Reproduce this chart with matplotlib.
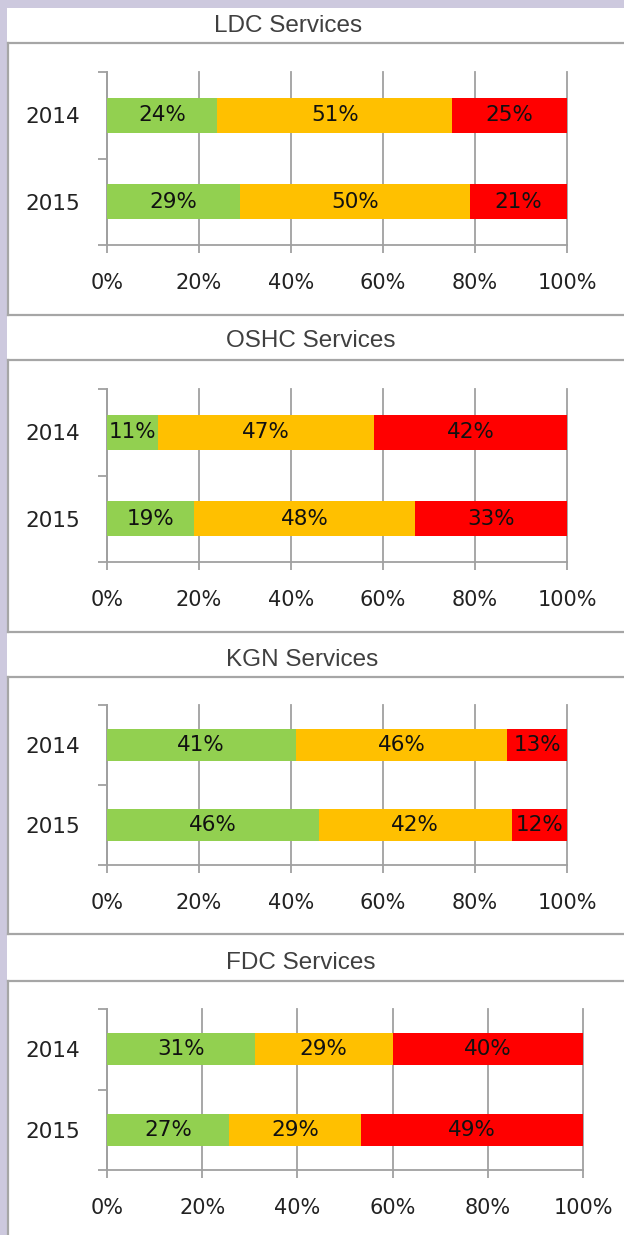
import numpy as np
import matplotlib as mpl
mpl.use('Agg')
import matplotlib.pyplot as plt
from matplotlib.lines import Line2D
from matplotlib.patches import Rectangle

W, H = 624, 1235

titles = ['LDC Services', 'OSHC Services', 'KGN Services', 'FDC Services']
years = ['2014', '2015']
xticks = [0, 20, 40, 60, 80, 100]
xtick_labels = ['0%', '20%', '40%', '60%', '80%', '100%']

# green, yellow, red shares for 2014 and 2015
ldc = [[24, 51, 25], [29, 50, 21]]
oshc = [[11, 47, 42], [19, 48, 33]]
kgn = [[41, 46, 13], [46, 42, 12]]
fdc = [[31, 29, 40], [27, 29, 49]]
panels = [ldc, oshc, kgn, fdc]

colors = ['#92d050', '#ffc000', '#ff0000']
GRID = '#a0a0a0'

# pixel layout: axes left, right, top, bottom, title x, title y, frame top, frame bottom
layout = [
  (107, 567, 72, 245, 288, 26, 43, 315),
  (107, 567, 389, 562, 311, 341, 360, 632),
  (107, 567, 705, 865, 302, 660, 677, 934),
  (107, 583, 1009, 1170, 301, 963, 981, 1250),
]

plt.rcParams['font.family'] = ['DejaVu Sans']

fig = plt.figure(figsize=(W/100, H/100), dpi=100, facecolor='#cdc9de')

# white page behind the charts
fig.add_artist(Rectangle((7/W, 0), 1, 1 - 8/H, transform=fig.transFigure,
                         facecolor='white', edgecolor='none', zorder=-5))


def fy(y):
  return 1 - y/H


for k in range(len(panels)):
  data = np.array(panels[k], dtype=float)
  l, r, t, b, tx, ty, ft, fb = layout[k]

  # frame round each chart
  for yy in (ft, fb):
    fig.add_artist(Line2D([8/W, 1], [fy(yy), fy(yy)], transform=fig.transFigure,
                          color='#a6a6a6', lw=1.6))
  fig.add_artist(Line2D([8/W, 8/W], [fy(ft), fy(fb)], transform=fig.transFigure,
                        color='#a6a6a6', lw=1.6))

  fig.text(tx/W, fy(ty), titles[k], ha='center', va='center', fontsize=17.5,
           color='#404040', family='Liberation Sans')

  ax = fig.add_axes([l/W, fy(b), (r-l)/W, (b-t)/H])
  ax.set_facecolor('none')

  pct = data / data.sum(axis=1, keepdims=True) * 100
  ypos = np.arange(len(years))
  left = np.zeros(len(years))
  for j in range(3):
    ax.barh(ypos, pct[:, j], left=left, height=0.4, color=colors[j], zorder=3)
    for i in range(len(years)):
      ax.text(left[i] + pct[i, j]/2, ypos[i], '{}%'.format(int(data[i, j])),
              ha='center', va='center', fontsize=15.5, color='#111111', zorder=4)
    left += pct[:, j]

  ax.set_xlim(0, 100)
  ax.set_ylim(1.5, -0.5)

  ax.set_xticks(xticks)
  ax.set_xticklabels(xtick_labels)
  ax.set_yticks([-0.5, 0.5, 1.5])
  ax.set_yticklabels([])
  ax.set_yticks(ypos, minor=True)
  ax.set_yticklabels(years, minor=True)

  ax.tick_params(axis='x', direction='out', length=6, width=1.3, color=GRID,
                 labelsize=15, labelcolor='#222222', pad=14)
  ax.tick_params(axis='y', which='major', direction='out', length=6.5, width=1.3, color=GRID)
  ax.tick_params(axis='y', which='minor', length=0, labelsize=15.5,
                 labelcolor='#222222', pad=19)

  ax.grid(axis='x', color=GRID, lw=1.3, zorder=1)
  for gl in ax.get_xgridlines():
    gl.set_clip_on(False)
  ax.set_axisbelow(True)

  for s in ('top', 'right'):
    ax.spines[s].set_visible(False)
  for s in ('left', 'bottom'):
    ax.spines[s].set_color(GRID)
    ax.spines[s].set_linewidth(1.3)

fig.savefig('out.png', dpi=100, facecolor=fig.get_facecolor())
